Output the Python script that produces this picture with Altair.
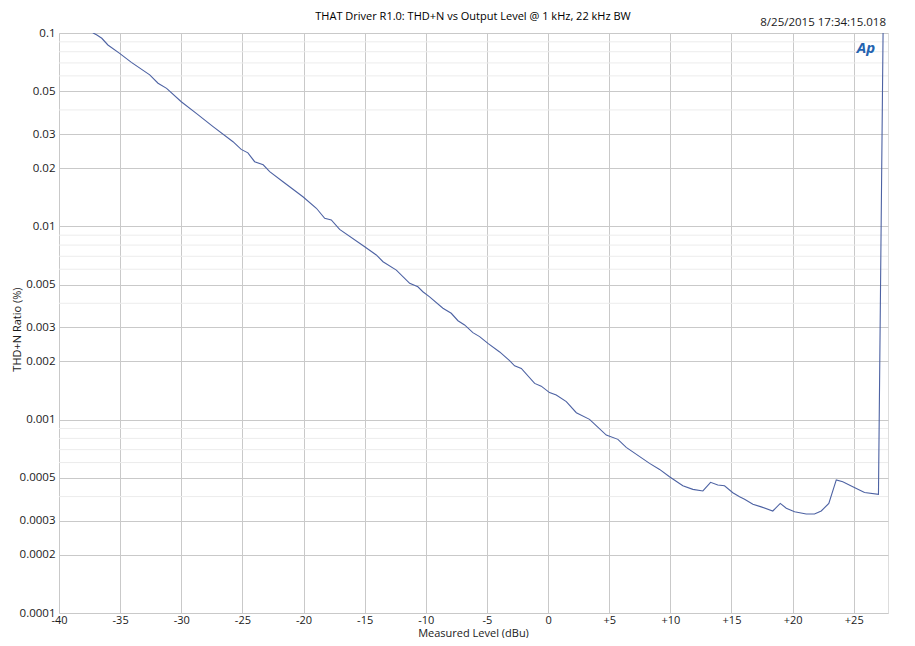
import altair as alt
import pandas as pd

# Measured curve
level_dbu = [-37.5, -37.2, -36.9, -36.5, -36.0, -35.04, -34.08, -32.58, -31.9, -31.2, -30.0,
             -28.77, -27.4, -25.77, -25.1, -24.55, -24.0, -23.3, -22.77, -21.68, -20.05,
             -18.95, -18.27, -17.73, -17.05, -15.0, -14.05, -13.5, -12.41, -11.32, -10.65,
             -10.24, -9.69, -8.6, -7.92, -7.37, -6.83, -6.15, -5.6, -4.92, -3.96, -3.15,
             -2.74, -2.19, -1.1, -0.56, 0.12, 0.67, 1.49, 2.31, 3.39, 4.76, 5.71, 6.39,
             8.3, 9.12, 9.93, 11.02, 11.84, 12.66, 13.29, 13.88, 14.43, 15.11, 15.66,
             16.07, 16.75, 17.43, 18.38, 18.99, 19.48, 20.16, 21.11, 21.79, 22.34, 22.96,
             23.57, 24.1, 24.92, 25.88, 27.02, 27.4]
thdn_pct = [0.104, 0.1, 0.0976, 0.0939, 0.0867, 0.0785, 0.0705, 0.0607, 0.055, 0.0517, 0.0441,
            0.0384, 0.0328, 0.0274, 0.025, 0.024, 0.0216, 0.0208, 0.0192, 0.0170, 0.01423,
            0.0124, 0.0110, 0.0108, 0.00964, 0.00784, 0.00711, 0.00656, 0.00594, 0.00507, 0.00487,
            0.00459, 0.00432, 0.00377, 0.00355, 0.00325, 0.00309, 0.00282, 0.00269, 0.00248, 0.00224, 0.00202,
            0.0019, 0.00184, 0.00154, 0.00149, 0.00138, 0.00134, 0.00124, 0.001086, 0.001004, 0.000832, 0.000791, 0.000719,
            0.000594, 0.000553, 0.000507, 0.000455, 0.000436, 0.000428, 0.000474, 0.000459, 0.000455, 0.000419, 0.000399,
            0.000388, 0.000365, 0.000354, 0.000337, 0.000369, 0.000348, 0.000334, 0.000325, 0.000325, 0.000337, 0.000369,
            0.000488, 0.000478, 0.00045, 0.00042, 0.000411, 0.105]

x_ticks = [-40, -35, -30, -25, -20, -15, -10, -5, 0, 5, 10, 15, 20, 25]
y_major = [0.1, 0.05, 0.03, 0.02, 0.01, 0.005, 0.003, 0.002, 0.001,
           0.0005, 0.0003, 0.0002, 0.0001]
y_minor = [0.09, 0.08, 0.07, 0.06, 0.04,
           0.009, 0.008, 0.007, 0.006, 0.004,
           0.0009, 0.0008, 0.0007, 0.0006, 0.0004]

title_text = ["THAT Driver R1.0: THD+N vs Output Level @ 1 kHz, 22 kHz BW"]
stamp_text = ["8/25/2015 17:34:15.018"]
logo_text = ["Ap"]

FONT = "Open Sans"
LABEL_COLOR = "#1a1a1a"

curve = pd.DataFrame({"x": level_dbu, "y": thdn_pct})
minor = pd.DataFrame({"y": y_minor})

xscale = alt.Scale(domain=[-40, 27.8], nice=False, zero=False)
yscale = alt.Scale(type="log", domain=[0.0001, 0.1], nice=False)

xaxis = alt.Axis(values=x_ticks, grid=True, gridColor="#c9c9c9", gridWidth=1,
                 ticks=False, domain=False, labelFlush=False, labelOverlap=False,
                 labelExpr="datum.value > 0 ? '+' + datum.value : '' + datum.value",
                 labelFont=FONT, labelFontSize=11, labelColor=LABEL_COLOR, labelPadding=1,
                 title="Measured Level (dBu)", titleFont=FONT, titleFontSize=11,
                 titleFontWeight="normal", titleColor=LABEL_COLOR,
                 titleX=414, titleY=20, titleBaseline="middle", titleAnchor="middle")
yaxis = alt.Axis(values=y_major, grid=True, gridColor="#c9c9c9", gridWidth=1,
                 ticks=False, domain=False, labelFlush=False, labelOverlap=False,
                 labelExpr="'' + datum.value",
                 labelFont=FONT, labelFontSize=11.5, labelColor=LABEL_COLOR, labelPadding=4,
                 title="THD+N Ratio (%)", titleFont=FONT, titleFontSize=11,
                 titleFontWeight="normal", titleColor=LABEL_COLOR,
                 titleX=-42, titleY=296, titleAngle=-90, titleBaseline="middle",
                 titleAlign="center", titleAnchor="middle")

minor_rules = alt.Chart(minor).mark_rule(color="#ececec", strokeWidth=1).encode(
    y=alt.Y("y:Q", scale=yscale, axis=yaxis)
)

line = alt.Chart(curve).mark_line(color="#4d62a3", strokeWidth=1.1, clip=True).encode(
    x=alt.X("x:Q", scale=xscale, axis=xaxis),
    y=alt.Y("y:Q", scale=yscale, axis=yaxis),
    order=alt.Order("x:Q"),
)

title = alt.Chart(pd.DataFrame({"t": title_text})).mark_text(
    align="center", baseline="middle", font=FONT, fontSize=11, color="#000000"
).encode(text="t:N", x=alt.value(414), y=alt.value(-16))

stamp = alt.Chart(pd.DataFrame({"t": stamp_text})).mark_text(
    align="right", baseline="middle", font=FONT, fontSize=11.5, color=LABEL_COLOR
).encode(text="t:N", x=alt.value(827), y=alt.value(-10))

logo = alt.Chart(pd.DataFrame({"t": logo_text})).mark_text(
    align="center", baseline="middle", font=FONT, fontSize=15, fontWeight="bold",
    fontStyle="italic", color="#2463b0"
).encode(text="t:N", x=alt.value(807), y=alt.value(15))

chart = alt.layer(minor_rules, line, title, stamp, logo).properties(
    width=829, height=580,
    padding={"left": 51, "top": 25, "right": 19, "bottom": 25},
    autosize=alt.AutoSizeParams(type="none"),
).configure_view(stroke="#707070", strokeWidth=1).configure(background="white")

chart.save("out.html", embed_options={"renderer": "svg", "actions": False})
